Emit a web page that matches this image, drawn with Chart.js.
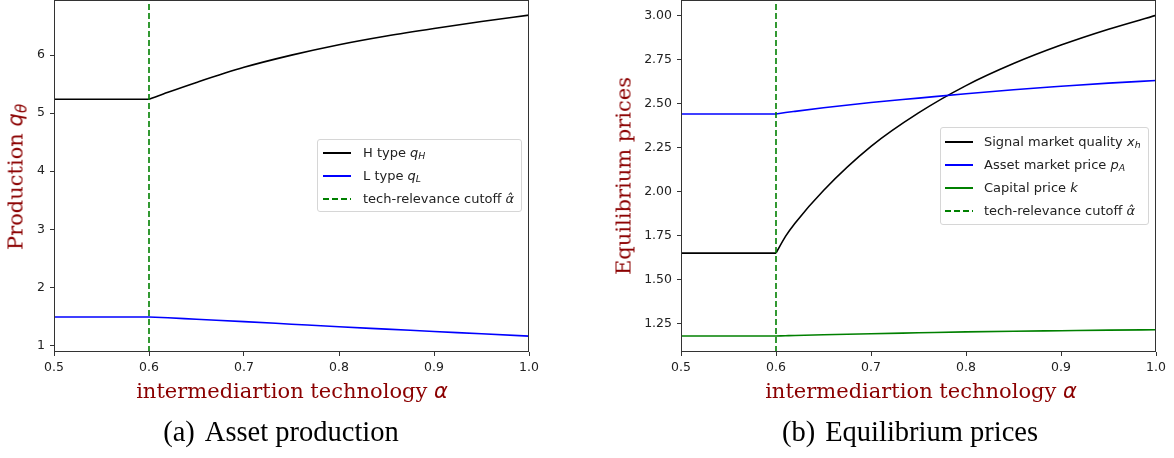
<!DOCTYPE html>
<html>
<head>
<meta charset="utf-8">
<script src="https://cdn.jsdelivr.net/npm/chart.js"></script>
<style>
  body { margin: 0; background: #fff; }
  #page { position: relative; width: 1174px; height: 458px; overflow: hidden; font-family: 'DejaVu Sans', sans-serif; }
  .holder { position: absolute; top: 0; }
  .axis-title { position: absolute; font-family: 'DejaVu Serif', serif; font-size: 21px; color: #8b0000; white-space: nowrap; line-height: 1; }
  .math { font-family: 'DejaVu Sans', sans-serif; font-style: italic; }
  .ytitle { transform: translate(-50%, -50%) rotate(-90deg); }
  .xtitle { transform: translate(-50%, -50%); }
  .caption { position: absolute; font-family: 'Liberation Serif', serif; font-size: 28.5px; color: #000; transform: translate(-50%, -50%); white-space: nowrap; line-height: 1; }
  .caption .tag { margin-right: 10px; }
  .legend { position: absolute; border: 1px solid #d6d6d6; border-radius: 3px; background: rgba(255,255,255,0.8); box-sizing: border-box; }
  .legend .row { position: absolute; left: 0; right: 0; height: 20px; }
  .legend .sample { position: absolute; width: 28px; top: 9px; height: 2px; }
  .legend .label { position: absolute; top: 0; line-height: 20px; font-size: 13px; color: #222; white-space: nowrap; }
  sub { font-size: 72%; vertical-align: -0.25em; line-height: 0; }
</style>
</head>
<body>
<div id="page">
  <div class="holder" style="left:0"><canvas id="chartA" width="560" height="380"></canvas></div>
  <div class="holder" style="left:600px"><canvas id="chartB" width="574" height="380"></canvas></div>

  <div class="axis-title ytitle" style="left:16px; top:177px">Production <span class="math">q</span><sub class="math">θ</sub></div>
  <div class="axis-title xtitle" style="left:292px; top:391px">intermediartion technology <span class="math">α</span></div>
  <div class="caption" style="left:281px; top:432px"><span class="tag">(a)</span>Asset production</div>

  <div class="axis-title ytitle" style="left:624px; top:176px">Equilibrium prices</div>
  <div class="axis-title xtitle" style="left:921px; top:391px">intermediartion technology <span class="math">α</span></div>
  <div class="caption" style="left:910px; top:432px"><span class="tag">(b)</span>Equilibrium prices</div>

  <div id="legendA" class="legend" style="left:317px; top:139px; width:205px; height:73px"></div>
  <div id="legendB" class="legend" style="left:940px; top:127px; width:209px; height:98px"></div>
</div>

<script>
// Panel (a): asset production against intermediation technology
const alphaA = [0.5, 0.6, 0.62, 0.65, 0.7, 0.75, 0.8, 0.85, 0.9, 0.95, 1.0];
const qH = [5.24, 5.24, 5.36, 5.53, 5.79, 6.00, 6.18, 6.33, 6.46, 6.58, 6.69];
const qL = [1.49, 1.49, 1.475, 1.45, 1.41, 1.365, 1.32, 1.28, 1.24, 1.20, 1.16];
const yTicksA = [1, 2, 3, 4, 5, 6];

// Panel (b): equilibrium prices
const alphaB = [0.5, 0.6, 0.61, 0.62, 0.65, 0.7, 0.75, 0.8, 0.85, 0.9, 0.95, 1.0];
const xh = [1.65, 1.65, 1.745, 1.82, 2.006, 2.256, 2.446, 2.601, 2.726, 2.831, 2.921, 3.00];
const pA = [2.44, 2.44, 2.448, 2.455, 2.475, 2.505, 2.53, 2.555, 2.578, 2.597, 2.615, 2.63];
const kPrice = [1.18, 1.18, 1.1815, 1.183, 1.187, 1.193, 1.198, 1.203, 1.207, 1.21, 1.213, 1.215];
const yTicksB = [1.25, 1.50, 1.75, 2.00, 2.25, 2.50, 2.75, 3.00];

const xTicks = [0.5, 0.6, 0.7, 0.8, 0.9, 1.0];
const cutoff = 0.6;

const TICK_FONT = { family: 'DejaVu Sans', size: 12.5 };

// Flat part before the cutoff is straight, the part after it is a smooth curve
function splitAt(xs, ys, cut) {
    const before = [];
    const after = [];
    xs.forEach((x, i) => {
        if (x <= cut) before.push({ x: x, y: ys[i] });
        if (x >= cut) after.push({ x: x, y: ys[i] });
    });
    return [before, after];
}

function seriesDatasets(xs, ys, color) {
    const [flat, curve] = splitAt(xs, ys, cutoff);
    const base = { borderColor: color, borderWidth: 1.6, pointRadius: 0, fill: false };
    return [
        Object.assign({ data: flat, tension: 0 }, base),
        Object.assign({ data: curve, cubicInterpolationMode: 'monotone' }, base)
    ];
}

function cutoffDataset(yMin, yMax) {
    return {
        data: [{ x: cutoff, y: yMin }, { x: cutoff, y: yMax }],
        borderColor: '#008000',
        borderWidth: 1.6,
        borderDash: [6, 3],
        pointRadius: 0,
        tension: 0
    };
}

// matplotlib style box around the plot area
const framePlugin = {
    id: 'frame',
    afterDatasetsDraw(chart) {
        const { ctx, chartArea: a } = chart;
        ctx.save();
        ctx.strokeStyle = '#333';
        ctx.lineWidth = 1;
        ctx.strokeRect(a.left + 0.5, a.top + 0.5, a.right - a.left - 1, a.bottom - a.top - 1);
        ctx.restore();
    }
};

function noPadding(scale) {
    scale.paddingTop = 0;
    scale.paddingBottom = 0;
    scale.paddingLeft = 0;
    scale.paddingRight = 0;
}

function makeChart(id, datasets, opts) {
    const tickGrid = { display: true, drawOnChartArea: false, drawTicks: true, tickLength: 4, color: '#333', lineWidth: 1 };
    return new Chart(document.getElementById(id), {
        type: 'line',
        data: { datasets: datasets },
        options: {
            responsive: false,
            animation: false,
            devicePixelRatio: 1,
            layout: { padding: { left: 0, right: opts.padRight, top: 0, bottom: 0 } },
            plugins: { legend: { display: false }, tooltip: { enabled: false } },
            scales: {
                x: {
                    type: 'linear',
                    min: xTicks[0],
                    max: xTicks[xTicks.length - 1],
                    grid: tickGrid,
                    border: { display: false },
                    afterBuildTicks: (scale) => { scale.ticks = xTicks.map(v => ({ value: v })); },
                    afterFit: (scale) => { scale.height = 28; noPadding(scale); },
                    ticks: { font: TICK_FONT, color: '#222', padding: 4, maxRotation: 0, callback: v => v.toFixed(1) }
                },
                y: {
                    type: 'linear',
                    min: opts.yMin,
                    max: opts.yMax,
                    grid: tickGrid,
                    border: { display: false },
                    afterBuildTicks: (scale) => { scale.ticks = opts.yTicks.map(v => ({ value: v })); },
                    afterFit: (scale) => { scale.width = opts.yWidth; noPadding(scale); },
                    ticks: { font: TICK_FONT, color: '#222', padding: 5, callback: opts.yFormat }
                }
            }
        },
        plugins: [framePlugin]
    });
}

function buildLegend(id, items) {
    const box = document.getElementById(id);
    items.forEach((item) => {
        const row = document.createElement('div');
        row.className = 'row';
        row.style.top = (item.top - 10) + 'px';

        const sample = document.createElement('div');
        sample.className = 'sample';
        sample.style.left = item.lineLeft + 'px';
        if (item.dashed) {
            sample.style.background = 'repeating-linear-gradient(90deg, ' + item.color + ' 0 6px, transparent 6px 9px)';
        } else {
            sample.style.background = item.color;
        }

        const label = document.createElement('div');
        label.className = 'label';
        label.style.left = item.textLeft + 'px';
        label.innerHTML = item.html;

        row.appendChild(sample);
        row.appendChild(label);
        box.appendChild(row);
    });
}

const yMinA = 0.886, yMaxA = 6.95;
const yMinB = 1.089, yMaxB = 3.087;

makeChart('chartA', [cutoffDataset(yMinA, yMaxA)]
    .concat(seriesDatasets(alphaA, qL, '#0000ff'))
    .concat(seriesDatasets(alphaA, qH, '#000000')), {
    padRight: 31, yWidth: 54, yMin: yMinA, yMax: yMaxA, yTicks: yTicksA,
    yFormat: v => String(v)
});

makeChart('chartB', [cutoffDataset(yMinB, yMaxB)]
    .concat(seriesDatasets(alphaB, kPrice, '#008000'))
    .concat(seriesDatasets(alphaB, pA, '#0000ff'))
    .concat(seriesDatasets(alphaB, xh, '#000000')), {
    padRight: 18, yWidth: 81, yMin: yMinB, yMax: yMaxB, yTicks: yTicksB,
    yFormat: v => v.toFixed(2)
});

const hat = 'α\u0302';
buildLegend('legendA', [
    { top: 13, lineLeft: 5, textLeft: 45, color: '#000', html: 'H type <i>q</i><sub><i>H</i></sub>' },
    { top: 36, lineLeft: 5, textLeft: 45, color: '#00f', html: 'L type <i>q</i><sub><i>L</i></sub>' },
    { top: 59, lineLeft: 5, textLeft: 45, color: '#008000', dashed: true, html: 'tech-relevance cutoff <i>' + hat + '</i>' }
]);
buildLegend('legendB', [
    { top: 14, lineLeft: 4, textLeft: 43, color: '#000', html: 'Signal market quality <i>x</i><sub><i>h</i></sub>' },
    { top: 37, lineLeft: 4, textLeft: 43, color: '#00f', html: 'Asset market price <i>p</i><sub><i>A</i></sub>' },
    { top: 60, lineLeft: 4, textLeft: 43, color: '#008000', html: 'Capital price <i>k</i>' },
    { top: 83, lineLeft: 4, textLeft: 43, color: '#008000', dashed: true, html: 'tech-relevance cutoff <i>' + hat + '</i>' }
]);
</script>
</body>
</html>
